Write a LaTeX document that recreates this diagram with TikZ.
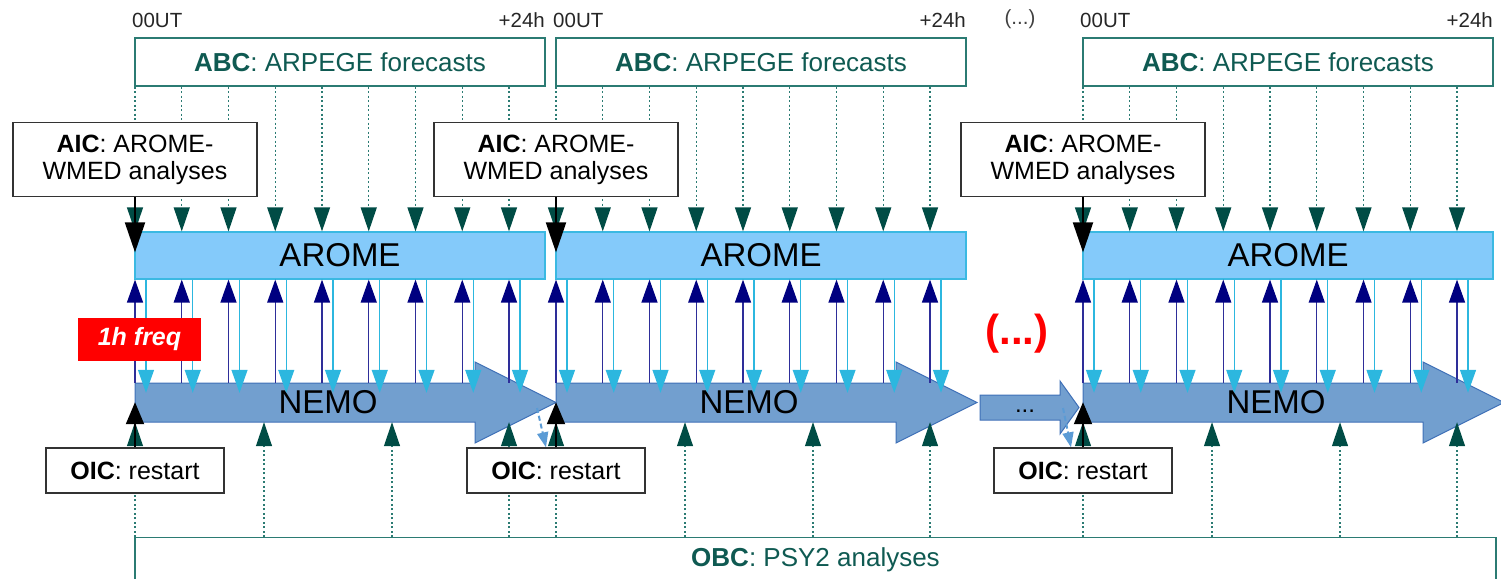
\documentclass[tikz,border=0pt]{standalone}
\usepackage{fontspec}
\setmainfont{Liberation Sans}
\usepackage{tikz}
\usetikzlibrary{arrows.meta,positioning}

\definecolor{bctext}{HTML}{0F5A52}
\definecolor{bcline}{HTML}{2B7B73}
\definecolor{bchead}{HTML}{004C45}
\definecolor{aromefill}{HTML}{84CAFA}
\definecolor{aromeline}{HTML}{3BB9E2}
\definecolor{nemofill}{HTML}{729FCF}
\definecolor{nemoline}{HTML}{3F70B7}
\definecolor{upline}{HTML}{2E2E99}
\definecolor{uphead}{HTML}{000080}
\definecolor{downline}{HTML}{2CB7DF}
\definecolor{restartline}{HTML}{5B9BD5}

\begin{document}
\begin{tikzpicture}[
    x=1pt, y=-1pt,
    forcbox/.style={draw=bcline, line width=1.2pt, fill=white, text=bctext, inner sep=0pt, font=\fontsize{26}{30}\selectfont},
    icbox/.style={draw=black!80, line width=1.3pt, fill=white, inner sep=0pt, align=center, font=\fontsize{25}{27}\selectfont},
    aromebox/.style={draw=aromeline, line width=1.2pt, fill=aromefill, minimum width=410, minimum height=47, font=\fontsize{33}{36}\selectfont},
    nemoshape/.style={draw=nemoline, line width=1pt, fill=nemofill},
    hourlbl/.style={inner sep=0pt, font=\fontsize{20.5}{24}\selectfont, text=black!85},
    tealarr/.style={draw=bcline, line width=1.2pt, dash pattern=on 2pt off 2.5pt, -{Triangle[width=16pt,length=24pt,color=bchead]}},
    uparr/.style={draw=upline, line width=1.3pt, -{Triangle[width=16pt,length=23pt,color=uphead]}},
    downarr/.style={draw=downline, line width=1.3pt, -{Triangle[width=16pt,length=23pt,color=downline]}},
    aicarr/.style={draw=black, line width=2pt, -{Triangle[width=20pt,length=30pt]}},
    oicarr/.style={draw=black, line width=2pt, -{Triangle[width=18pt,length=22pt]}},
    restartarr/.style={draw=restartline, line width=2pt, dash pattern=on 5pt off 3pt, -{Triangle[width=11pt,length=15pt]}}
]
\useasboundingbox (0,0) rectangle (1501,578);

\node[forcbox, minimum width=1361, minimum height=44, anchor=north] (obc) at (815.5,537) {\textbf{OBC}: PSY2 analyses};

% one day of coupled run per block
\foreach \b/\s in {1/135, 2/556, 3/1083} {
    \node[forcbox, minimum width=410, minimum height=48] (abc\b) at (\s+205,62) {\textbf{ABC}: ARPEGE forecasts};
    \node[hourlbl, anchor=west] (ut\b) at (\s-3,20) {00UT};
    \node[hourlbl, anchor=east] (hh\b) at (\s+410,20) {+24h};
    \node[aromebox] (arome\b) at (\s+205,255.5) {AROME};
    \filldraw[nemoshape] (\s,383) -- (\s+340,383) -- (\s+340,362) -- (\s+421,402.5)
        -- (\s+340,443) -- (\s+340,422) -- (\s,422) -- cycle;
    \node[font=\fontsize{33}{36}\selectfont, minimum height=39, inner sep=0pt] (nemo\b) at (\s+193,402.5) {NEMO};

    \foreach \k in {0,...,8} {
        \coordinate (t\b-\k) at (\s+\k*46.75,0);
        \coordinate (c\b-\k) at (\s+\k*46.75+11,0);
        \draw[tealarr] (abc\b.south -| t\b-\k) -- (arome\b.north -| t\b-\k);
        \draw[uparr] (nemo\b.north -| t\b-\k) -- (arome\b.south -| t\b-\k);
        \draw[downarr] (arome\b.south -| c\b-\k) -- ([yshift=-10pt]nemo\b.north -| c\b-\k);
    }
    \foreach \d in {0,129,257,374} {
        \coordinate (o\b-\d) at (\s+\d,0);
        \draw[tealarr] (obc.north -| o\b-\d) -- (nemo\b.south -| o\b-\d);
    }

    \node[icbox, minimum width=244, minimum height=74] (aic\b) at (\s,159.5) {\textbf{AIC}: AROME-\\WMED analyses};
    \node[icbox, minimum width=178, minimum height=45] (oic\b) at (\s,470.5) {\textbf{OIC}: restart};
    \draw[aicarr] (aic\b.south) -- ([yshift=-21pt]arome\b.north -| aic\b.south);
    \draw[oicarr] (oic\b.north) -- ([yshift=20pt]nemo\b.south -| oic\b.north);
}

\filldraw[nemoshape] (980,395) -- (1060,395) -- (1060,381) -- (1079,407.5) -- (1060,434) -- (1060,420) -- (980,420) -- cycle;
\node[font=\fontsize{24}{28}\selectfont, inner sep=0pt] (dots) at (1025,411) {...};

\coordinate (nemoend) at (537,408);
\coordinate (dotsend) at (1063,408);
\draw[restartarr] (nemoend) -- ([xshift=-10pt]oic2.north);
\draw[restartarr] (dotsend) -- ([xshift=-12pt]oic3.north);

\node[fill=red, text=white, minimum width=123, minimum height=43, inner sep=0pt, font=\fontsize{25}{28}\selectfont\bfseries\itshape] (freq) at (139.5,339.5) {1h freq};
\node[text=red, font=\fontsize{42}{46}\selectfont\bfseries] (etc) at (1017,334) {(...)};
\node[hourlbl, text=black!75] (etctop) at (1020,19) {(...)};
\end{tikzpicture}
\end{document}
